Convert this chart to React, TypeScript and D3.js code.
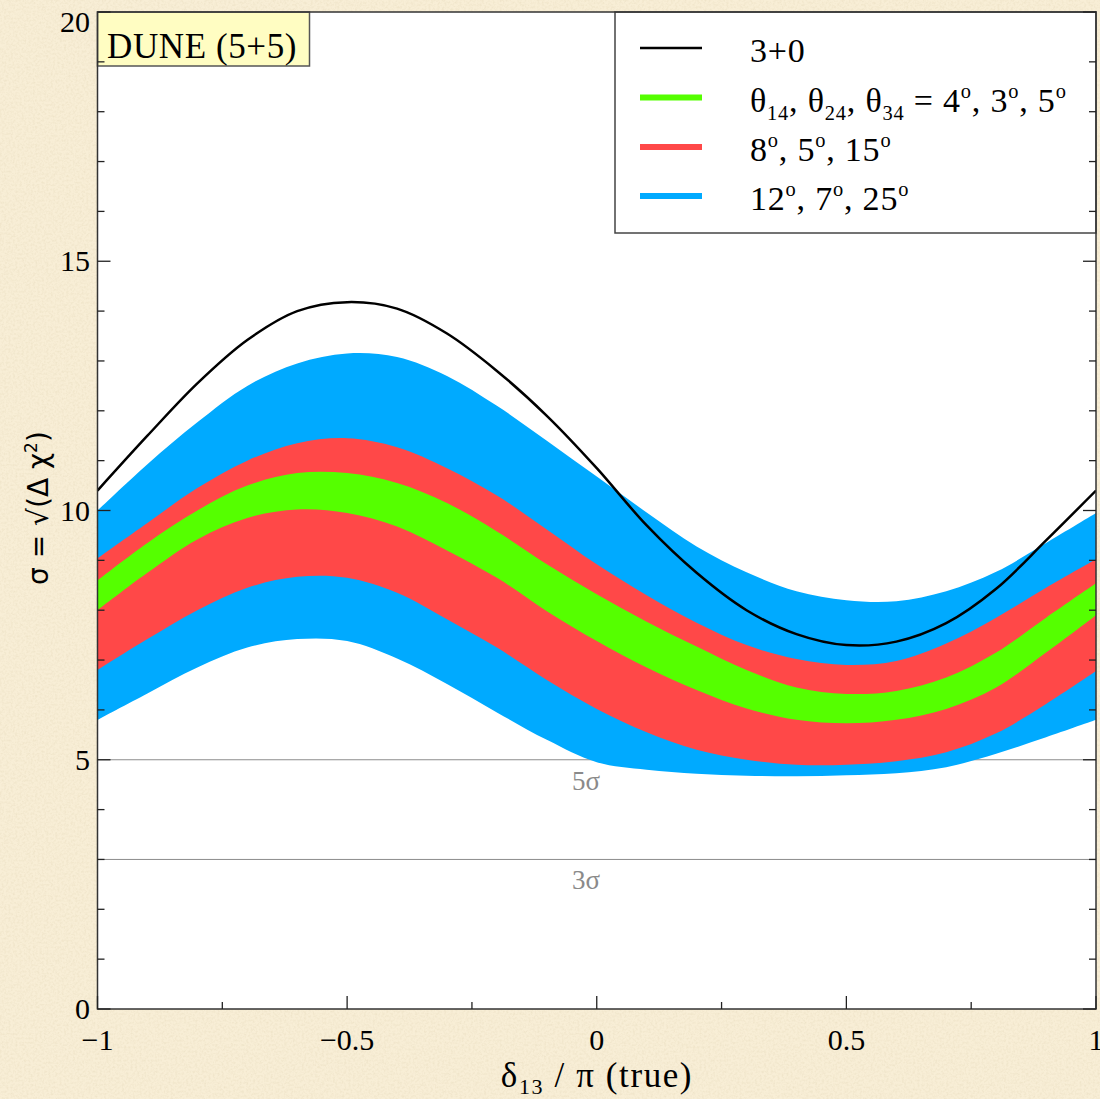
import React from "react";
import * as d3 from "d3";

// δ13/π grid on which the curves are tabulated
const deltaCP = [
  -1, -0.9, -0.8, -0.7, -0.6, -0.5, -0.4, -0.3, -0.2, -0.1, 0,
  0.1, 0.2, 0.3, 0.4, 0.5, 0.6, 0.7, 0.8, 0.9, 1,
];

// standard 3+0 sensitivity
const sens3p0 = [
  10.4, 11.5, 12.55, 13.42, 14.0, 14.18, 14.05, 13.55, 12.8, 11.9, 10.85,
  9.7, 8.75, 8.0, 7.52, 7.3, 7.37, 7.74, 8.43, 9.4, 10.4,
];

// 3+1 bands: θ14, θ24, θ34 = 12°, 7°, 25°
const blueLow = [
  5.8, 6.33, 6.85, 7.25, 7.42, 7.38, 7.03, 6.52, 5.95, 5.4, 4.95,
  4.8, 4.72, 4.68, 4.67, 4.69, 4.73, 4.85, 5.12, 5.45, 5.8,
];
const blueHigh = [
  10.0, 10.93, 11.77, 12.5, 12.95, 13.15, 13.08, 12.7, 12.1, 11.4, 10.68,
  9.96, 9.28, 8.76, 8.38, 8.2, 8.18, 8.38, 8.77, 9.35, 9.95,
];

// θ14, θ24, θ34 = 8°, 5°, 15°
const redLow = [
  6.8, 7.42, 8.0, 8.45, 8.67, 8.65, 8.35, 7.82, 7.25, 6.6, 6.02,
  5.55, 5.2, 5.0, 4.9, 4.9, 4.97, 5.15, 5.53, 6.12, 6.78,
];
const redHigh = [
  9.04, 9.75, 10.45, 11.0, 11.35, 11.45, 11.27, 10.85, 10.3, 9.62, 8.92,
  8.3, 7.75, 7.3, 7.02, 6.9, 6.98, 7.33, 7.85, 8.45, 9.02,
];

// θ14, θ24, θ34 = 4°, 3°, 5°
const greenLow = [
  8.0, 8.75, 9.42, 9.85, 10.02, 9.95, 9.68, 9.2, 8.65, 7.98, 7.38,
  6.85, 6.4, 6.03, 5.8, 5.73, 5.8, 6.02, 6.45, 7.15, 7.9,
];
const greenHigh = [
  8.6, 9.35, 10.0, 10.5, 10.75, 10.75, 10.55, 10.15, 9.58, 8.92, 8.32,
  7.77, 7.27, 6.8, 6.45, 6.32, 6.38, 6.65, 7.15, 7.85, 8.54,
];

const xMajorTicks = [-1, -0.5, 0, 0.5, 1];
const xMinorTicks = [-0.75, -0.25, 0.25, 0.75];
const xTickLabels = ["\u22121", "\u22120.5", "0", "0.5", "1"];
const yMajorTicks = [0, 5, 10, 15, 20];
const yMinorTicks = [1, 2, 3, 4, 6, 7, 8, 9, 11, 12, 13, 14, 16, 17, 18, 19];
const sigmaLevels = [5, 3];
const sigmaLabels = ["5\u03c3", "3\u03c3"];

const COLORS = {
  blue: "#00aaff",
  red: "#ff4848",
  green: "#55ff00",
  black: "#000000",
};

type Seg = { t: string; sub?: boolean; sup?: boolean };
const legendEntries: { color: string; width: number; label: Seg[] }[] = [
  { color: COLORS.black, width: 2.5, label: [{ t: "3+0" }] },
  {
    color: COLORS.green,
    width: 6,
    label: [
      { t: "\u03b8" }, { t: "14", sub: true }, { t: ", \u03b8" }, { t: "24", sub: true },
      { t: ", \u03b8" }, { t: "34", sub: true }, { t: " = 4" }, { t: "o", sup: true },
      { t: ", 3" }, { t: "o", sup: true }, { t: ", 5" }, { t: "o", sup: true },
    ],
  },
  {
    color: COLORS.red,
    width: 6,
    label: [
      { t: "8" }, { t: "o", sup: true }, { t: ", 5" }, { t: "o", sup: true },
      { t: ", 15" }, { t: "o", sup: true },
    ],
  },
  {
    color: COLORS.blue,
    width: 6,
    label: [
      { t: "12" }, { t: "o", sup: true }, { t: ", 7" }, { t: "o", sup: true },
      { t: ", 25" }, { t: "o", sup: true },
    ],
  },
];

const W = 1100;
const H = 1099;
const X0 = 97.5;
const X1 = 1096;
const Y0 = 1009;
const Y1 = 12;

const SERIF = "'Liberation Serif', 'DejaVu Serif', serif";
const SANS = "'DejaVu Sans', sans-serif";

function renderSegs(segs: Seg[], fs: number) {
  const out: React.ReactNode[] = [];
  let shift = 0;
  segs.forEach((s, i) => {
    let target = 0;
    let size = fs;
    if (s.sub) {
      target = fs * 0.24;
      size = fs * 0.6;
    } else if (s.sup) {
      target = -fs * 0.4;
      size = fs * 0.6;
    }
    const dy = target - shift;
    shift = target;
    out.push(
      <tspan key={i} dy={dy} fontSize={size}>
        {s.t}
      </tspan>
    );
  });
  return out;
}

export default function App() {
  const x = d3.scaleLinear().domain([-1, 1]).range([X0, X1]);
  const y = d3.scaleLinear().domain([0, 20]).range([Y0, Y1]);
  const curve = d3.curveCatmullRom.alpha(0.5);

  const band = (lo: number[], hi: number[]) =>
    d3
      .area<number>()
      .x((d) => x(d))
      .y0((_, i) => y(lo[i]))
      .y1((_, i) => y(hi[i]))
      .curve(curve)(deltaCP) as string;

  const line = d3
    .line<number>()
    .x((d) => x(d))
    .y((_, i) => y(sens3p0[i]))
    .curve(curve)(deltaCP) as string;

  const legendX = 615;
  const legendY = 12;
  const legendRowY = [48, 97.5, 147, 196];

  return (
    <svg
      width={W}
      height={H}
      style={{ position: "absolute", left: 0, top: 0, display: "block" }}
    >
      <defs>
        <filter id="paper" x="0" y="0" width="100%" height="100%">
          <feTurbulence type="fractalNoise" baseFrequency="0.45" numOctaves="3" seed="7" />
          <feColorMatrix
            type="matrix"
            values="0 0 0 0 0.55  0 0 0 0 0.45  0 0 0 0 0.25  0 0 0 -0.9 0.55"
          />
        </filter>
        <clipPath id="plotClip">
          <rect x={X0} y={Y1} width={X1 - X0} height={Y0 - Y1} />
        </clipPath>
      </defs>

      {/* parchment page */}
      <rect x={0} y={0} width={W} height={H} fill="#f8eed6" />
      <rect x={0} y={0} width={W} height={H} filter="url(#paper)" opacity={0.35} />

      {/* plot area */}
      <rect x={X0} y={Y1} width={X1 - X0} height={Y0 - Y1} fill="#ffffff" />

      <g clipPath="url(#plotClip)">
        {sigmaLevels.map((s) => (
          <line key={s} x1={X0} x2={X1} y1={y(s)} y2={y(s)} stroke="#8c8c8c" strokeWidth={1} />
        ))}
        <path d={band(blueLow, blueHigh)} fill={COLORS.blue} />
        <path d={band(redLow, redHigh)} fill={COLORS.red} />
        <path d={band(greenLow, greenHigh)} fill={COLORS.green} />
        <path d={line} fill="none" stroke={COLORS.black} strokeWidth={2.5} />
      </g>

      {sigmaLevels.map((s, i) => (
        <text
          key={s}
          x={586}
          y={y(s) + 30}
          textAnchor="middle"
          fontFamily={SERIF}
          fontSize={27}
          fill="#8a8a8a"
        >
          {sigmaLabels[i]}
        </text>
      ))}

      {/* DUNE label box */}
      <rect x={X0} y={Y1} width={212} height={54} fill="#fffdc2" stroke="#555" strokeWidth={1.5} />
      <text x={107} y={58} fontFamily={SERIF} fontSize={35} letterSpacing={0.6} fill="#000">
        DUNE (5+5)
      </text>

      {/* legend */}
      <rect
        x={legendX}
        y={legendY}
        width={X1 - legendX}
        height={221}
        fill="#ffffff"
        stroke="#444"
        strokeWidth={1.5}
      />
      {legendEntries.map((e, i) => (
        <g key={i}>
          <line
            x1={640}
            x2={702}
            y1={legendRowY[i]}
            y2={legendRowY[i]}
            stroke={e.color}
            strokeWidth={e.width}
          />
          <text
            x={750}
            y={legendRowY[i] + 14}
            fontFamily={SERIF}
            fontSize={34}
            letterSpacing={0.8}
            fill="#000"
          >
            {renderSegs(e.label, 34)}
          </text>
        </g>
      ))}

      {/* frame */}
      <rect
        x={X0}
        y={Y1}
        width={X1 - X0}
        height={Y0 - Y1}
        fill="none"
        stroke="#333"
        strokeWidth={1.5}
      />

      {/* ticks */}
      {yMajorTicks.map((v) => (
        <g key={"yM" + v} stroke="#222" strokeWidth={1.3}>
          <line x1={X0} x2={X0 + 13} y1={y(v)} y2={y(v)} />
          <line x1={X1} x2={X1 - 13} y1={y(v)} y2={y(v)} />
        </g>
      ))}
      {yMinorTicks.map((v) => (
        <g key={"ym" + v} stroke="#222" strokeWidth={1.3}>
          <line x1={X0} x2={X0 + 7} y1={y(v)} y2={y(v)} />
          <line x1={X1} x2={X1 - 7} y1={y(v)} y2={y(v)} />
        </g>
      ))}
      {xMajorTicks.map((v) => (
        <line key={"xM" + v} x1={x(v)} x2={x(v)} y1={Y0} y2={Y0 - 13} stroke="#222" strokeWidth={1.3} />
      ))}
      {xMinorTicks.map((v) => (
        <line key={"xm" + v} x1={x(v)} x2={x(v)} y1={Y0} y2={Y0 - 7} stroke="#222" strokeWidth={1.3} />
      ))}

      {/* tick labels */}
      {yMajorTicks.map((v) => (
        <text
          key={"yl" + v}
          x={90}
          y={Math.max(y(v), 22) + 10}
          textAnchor="end"
          fontFamily={SERIF}
          fontSize={30}
          fill="#000"
        >
          {String(v)}
        </text>
      ))}
      {xMajorTicks.map((v, i) => (
        <text
          key={"xl" + v}
          x={x(v)}
          y={1050}
          textAnchor="middle"
          fontFamily={SERIF}
          fontSize={30}
          fill="#000"
        >
          {xTickLabels[i]}
        </text>
      ))}

      {/* axis titles */}
      <text
        x={597}
        y={1087}
        textAnchor="middle"
        fontFamily={SERIF}
        fontSize={35}
        letterSpacing={1.6}
        fill="#000"
      >
        <tspan>δ</tspan>
        <tspan dy={7} fontSize={22}>13</tspan>
        <tspan dy={-7}> / π (true)</tspan>
      </text>
      <text
        transform="translate(48,508) rotate(-90)"
        textAnchor="middle"
        fontFamily={SANS}
        fontSize={28}
        fill="#000"
      >
        <tspan>σ = √(Δ χ</tspan>
        <tspan dy={-11} fontSize={17}>2</tspan>
        <tspan dy={11}>)</tspan>
      </text>
    </svg>
  );
}
